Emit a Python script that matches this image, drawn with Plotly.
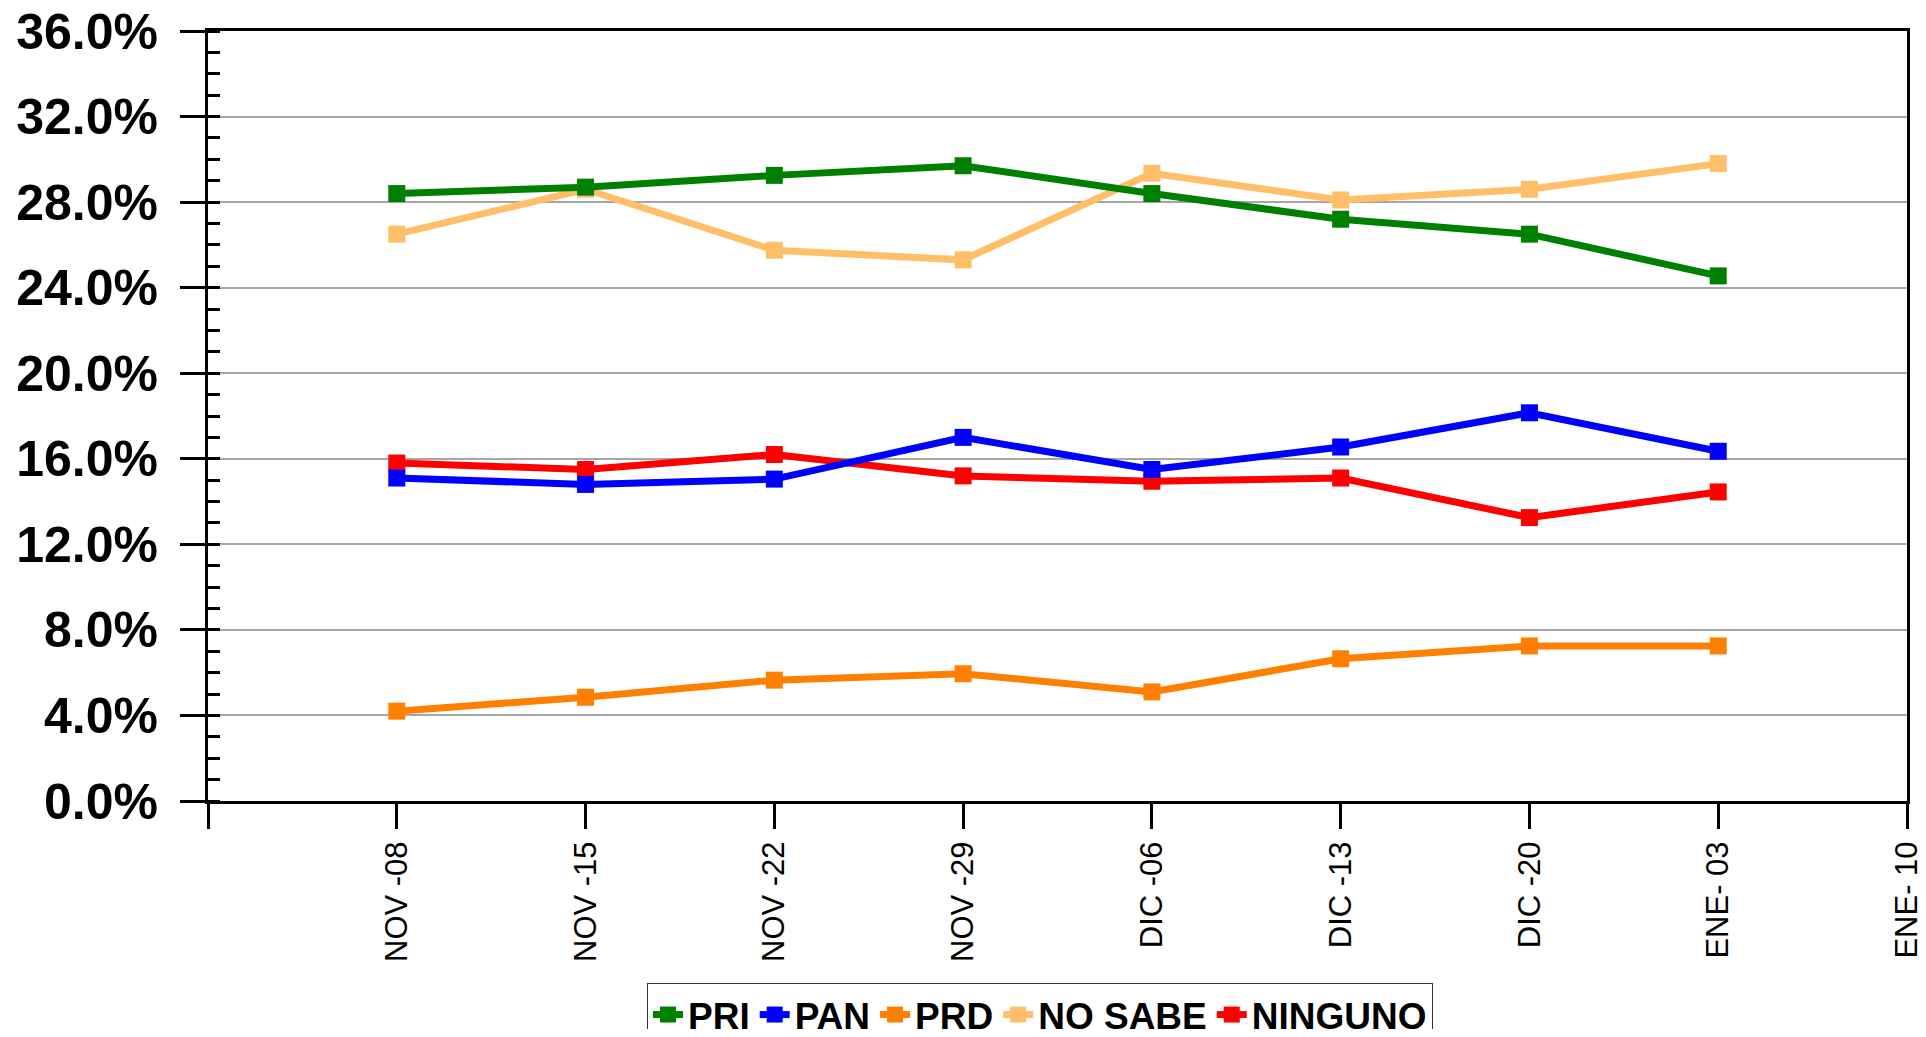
import plotly.graph_objects as go

categories = ["NOV -08", "NOV -15", "NOV -22", "NOV -29", "DIC -06", "DIC -13", "DIC -20", "ENE- 03"]
axis_categories = [" "] + categories + ["ENE- 10"]

pri = [28.4, 28.7, 29.25, 29.7, 28.4, 27.2, 26.5, 24.55]
pan = [15.1, 14.8, 15.05, 17.0, 15.5, 16.55, 18.15, 16.35]
prd = [4.2, 4.85, 5.65, 5.95, 5.1, 6.65, 7.25, 7.25]
no_sabe = [26.5, 28.6, 25.75, 25.3, 29.35, 28.1, 28.6, 29.8]
ninguno = [15.8, 15.5, 16.2, 15.2, 14.95, 15.1, 13.25, 14.45]

series = [
    ("PRI", pri, "#008000"),
    ("PAN", pan, "#0000FF"),
    ("PRD", prd, "#FF8000"),
    ("NO SABE", no_sabe, "#FFBF69"),
    ("NINGUNO", ninguno, "#FF0000"),
]

fig = go.Figure()
# draw in reverse so that earlier series sit on top; legend order restored below
for name, vals, color in reversed(series):
    fig.add_trace(go.Scatter(
        x=categories, y=vals, name=name, mode="lines+markers",
        line=dict(color=color, width=7),
        marker=dict(symbol="square", size=17, color=color),
    ))

# the page body adds an 8px offset; size the figure to fit the window
W, H = 1910, 1021
fig.update_layout(
    width=W, height=H,
    margin=dict(l=200, r=11, t=23, b=228),
    plot_bgcolor="white", paper_bgcolor="white",
    font=dict(family="Liberation Sans, Arial, sans-serif", color="black"),
    showlegend=True,
    legend=dict(
        orientation="h", traceorder="reversed",
        xref="container", yref="container",
        x=639 / W, xanchor="left", y=1 - 975 / H, yanchor="top",
        font=dict(family="Liberation Sans, Arial, sans-serif",
                  size=37, color="black", weight="bold"),
        bordercolor="#333333", borderwidth=1, bgcolor="white",
        itemwidth=30, tracegroupgap=0,
    ),
)

fig.update_xaxes(
    type="category", categoryorder="array", categoryarray=axis_categories,
    range=[0, 9], automargin=False, ticklabeloverflow="allow",
    showline=True, linecolor="black", linewidth=3, mirror=True,
    ticks="outside", ticklen=25, tickwidth=3, tickcolor="black",
    tickangle=-90, tickfont=dict(size=31, family="Liberation Sans, Arial, sans-serif"),
    showgrid=False, zeroline=False,
)
fig.update_yaxes(
    range=[0, 36], dtick=4, tick0=0, automargin=False, ticklabeloverflow="allow",
    tickformat=".1f", ticksuffix="%",
    showline=True, linecolor="black", linewidth=3, mirror=True,
    ticks="outside", ticklen=25, tickwidth=3, tickcolor="black",
    ticklabelstandoff=12,
    tickfont=dict(size=50, family="Liberation Sans, Arial, sans-serif", weight="bold"),
    showgrid=True, gridcolor="#a6a6a6", gridwidth=1.5, zeroline=False,
    minor=dict(ticks="inside", ticklen=12, tickwidth=3, tickcolor="black", dtick=1, showgrid=False),
)

fig.write_html("out.html")
